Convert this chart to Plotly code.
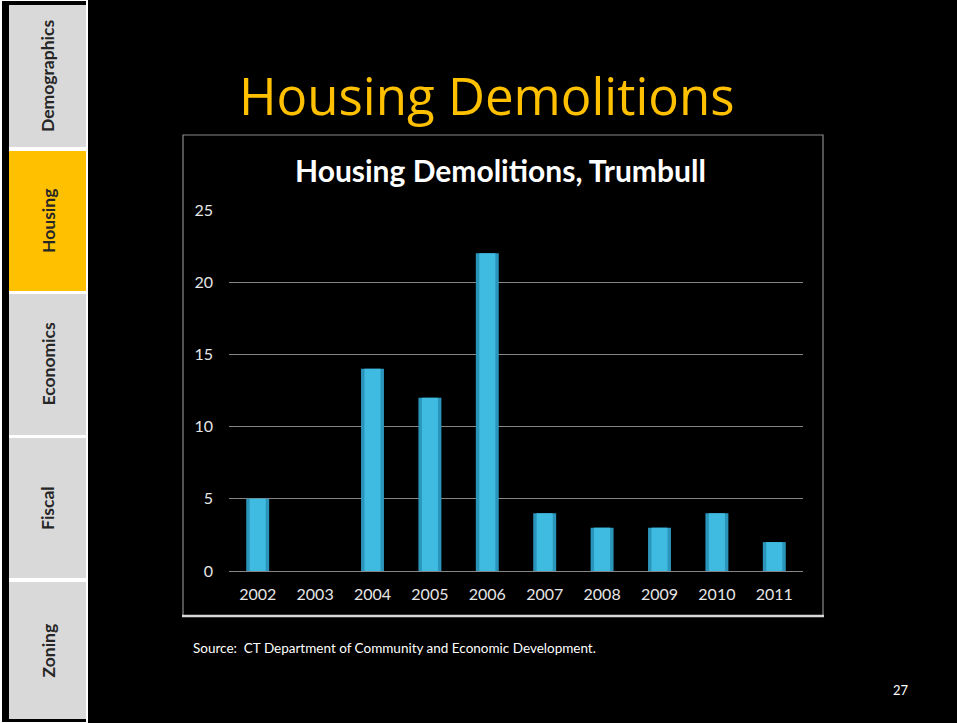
import plotly.graph_objects as go

W, H = 957, 723

years = ["2002", "2003", "2004", "2005", "2006", "2007", "2008", "2009", "2010", "2011"]
demolitions = [5, 0, 14, 12, 22, 4, 3, 3, 4, 2]
y_ticks = [0, 5, 10, 15, 20, 25]

nav_labels = ["Demographics", "Housing", "Economics", "Fiscal", "Zoning"]
nav_active = "Housing"
nav_bounds = [(5, 147), (151, 291), (294, 435), (438, 578), (582, 719)]


def px(x):
    return x / W


def py(y):
    return 1 - y / H


fig = go.Figure()

# darker outer bar + lighter inner bar to fake the shaded column look
fig.add_trace(go.Bar(
    x=years, y=demolitions, width=0.40,
    marker=dict(color="#2a94ba", line_width=0),
    hoverinfo="x+y",
))
fig.add_trace(go.Bar(
    x=years, y=demolitions, width=0.28,
    marker=dict(color="#3fbbe1", line_width=0),
    hoverinfo="skip",
))

shapes = []
# main black slide
shapes.append(dict(type="rect", xref="paper", yref="paper", x0=px(88), x1=px(W), y0=0, y1=1,
                   fillcolor="black", line_width=0, layer="below"))
# sidebar frame
shapes.append(dict(type="rect", xref="paper", yref="paper", x0=px(2), x1=px(86), y0=py(722), y1=py(1),
                   fillcolor="black", line_width=0, layer="below"))
annotations = []
for label, (top, bottom) in zip(nav_labels, nav_bounds):
    active = label == nav_active
    shapes.append(dict(type="rect", xref="paper", yref="paper", x0=px(9), x1=px(86),
                       y0=py(bottom), y1=py(top),
                       fillcolor="#ffc000" if active else "#d9d9d9", line_width=0, layer="below"))
    annotations.append(dict(text=label, xref="paper", yref="paper", x=px(48), y=py((top + bottom) / 2),
                            xanchor="center", yanchor="middle", showarrow=False, textangle=-90,
                            font=dict(family="Lato", size=17.5, color="#262626", weight="bold")))
# separators between sidebar boxes
for (t1, b1), (t2, b2) in zip(nav_bounds[:-1], nav_bounds[1:]):
    shapes.append(dict(type="rect", xref="paper", yref="paper", x0=px(9), x1=px(86),
                       y0=py(t2), y1=py(b1), fillcolor="white", line_width=0, layer="below"))

# chart box
shapes.append(dict(type="rect", xref="paper", yref="paper", x0=px(183), x1=px(823), y0=py(616), y1=py(135),
                   fillcolor="rgba(0,0,0,0)", line=dict(color="#8a8a8a", width=1.2), layer="below"))
shapes.append(dict(type="line", xref="paper", yref="paper", x0=px(182), x1=px(824), y0=py(616), y1=py(616),
                   line=dict(color="#d8d8d8", width=2.5)))

annotations += [
    dict(text="Housing Demolitions", xref="paper", yref="paper", x=px(487), y=py(95),
         xanchor="center", yanchor="middle", showarrow=False,
         font=dict(family="Open Sans", size=51, color="#ffc000")),
    dict(text="Housing Demolitions, Trumbull", xref="paper", yref="paper", x=px(501), y=py(170),
         xanchor="center", yanchor="middle", showarrow=False,
         font=dict(family="Lato", size=30, color="white", weight="bold")),
    dict(text="Source:  CT Department of Community and Economic Development.", xref="paper", yref="paper",
         x=px(191), y=py(648), xanchor="left", yanchor="middle", showarrow=False,
         font=dict(family="Lato", size=13.5, color="white")),
    dict(text="27", xref="paper", yref="paper", x=px(901), y=py(690),
         xanchor="center", yanchor="middle", showarrow=False,
         font=dict(family="Lato", size=13, color="white")),
]

fig.update_layout(
    width=W, height=H,
    margin=dict(l=0, r=0, t=0, b=0, pad=0),
    paper_bgcolor="white",
    plot_bgcolor="black",
    showlegend=False,
    barmode="overlay",
    shapes=shapes,
    annotations=annotations,
    xaxis=dict(
        domain=[px(229), px(803)],
        automargin=False,
        showgrid=False, zeroline=False, showline=False,
        tickfont=dict(family="Lato", size=16, color="#e6e6e6"),
        ticks="", ticklabelstandoff=12,
    ),
    yaxis=dict(
        domain=[py(571), py(210)],
        automargin=False,
        range=[0, 25],
        tickvals=y_ticks,
        showgrid=True, gridcolor="#858585", gridwidth=1.4,
        zeroline=True, zerolinecolor="#858585", zerolinewidth=1.4,
        showline=False,
        tickfont=dict(family="Lato", size=16, color="#e6e6e6"),
        ticks="", ticklabelstandoff=15,
    ),
)

fig.write_html("out.html", post_script="document.body.style.margin = '0';",
               config={"displayModeBar": False})
